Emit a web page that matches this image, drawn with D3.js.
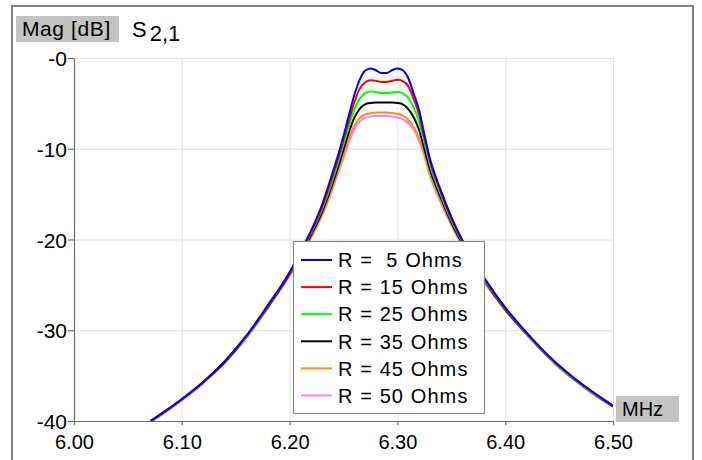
<!DOCTYPE html>
<html>
<head>
<meta charset="utf-8">
<script src="https://cdn.jsdelivr.net/npm/d3@7"></script>
<style>
  body { margin: 0; background: #fff; }
  svg { display: block; font-family: "Liberation Sans", Arial, sans-serif; }
</style>
</head>
<body>
<script>
// frequency grid (MHz), shared by all traces
const freq = [6.071, 6.08, 6.10, 6.12, 6.14, 6.16, 6.18, 6.20, 6.21, 6.22, 6.23, 6.24, 6.245, 6.25, 6.255, 6.26, 6.265, 6.27, 6.275, 6.28,
              6.285, 6.29, 6.295, 6.30, 6.305, 6.31, 6.315, 6.32, 6.325, 6.33, 6.34, 6.35, 6.36, 6.38, 6.40, 6.42, 6.44, 6.46, 6.48, 6.50];

// |S21| in dB, one array per resistor value
const r5  = [-40.0,-39.3,-37.6,-35.7,-33.4,-30.6,-27.2,-23.6,-21.3,-19.0,-16.2,-12.6,-10.7,-8.6,-6.3,-4.1,-2.4,-1.4,-1.15,-1.35,
             -1.65,-1.65,-1.35,-1.15,-1.35,-2.2,-3.9,-5.7,-8.4,-11.0,-14.5,-17.5,-20.0,-24.1,-27.5,-30.3,-32.8,-34.9,-36.7,-38.3];
const r15 = [-40.0,-39.3,-37.6,-35.7,-33.4,-30.6,-27.3,-23.7,-21.5,-19.2,-16.5,-13.0,-11.1,-9.0,-6.9,-4.9,-3.4,-2.7,-2.45,-2.5,
             -2.65,-2.65,-2.5,-2.4,-2.55,-3.1,-4.5,-6.2,-8.8,-11.3,-14.7,-17.7,-20.1,-24.2,-27.5,-30.3,-32.8,-34.9,-36.7,-38.3];
const r25 = [-40.0,-39.3,-37.6,-35.7,-33.4,-30.7,-27.3,-23.7,-21.6,-19.3,-16.7,-13.4,-11.5,-9.5,-7.5,-5.7,-4.5,-3.9,-3.7,-3.75,
             -3.85,-3.85,-3.8,-3.75,-3.9,-4.4,-5.4,-7.0,-9.3,-11.7,-15.0,-17.9,-20.2,-24.3,-27.6,-30.4,-32.9,-35.0,-36.8,-38.3];
const r35 = [-40.0,-39.3,-37.6,-35.7,-33.5,-30.7,-27.4,-23.8,-21.7,-19.5,-17.0,-13.8,-12.0,-10.1,-8.2,-6.6,-5.6,-5.1,-4.95,-4.9,
             -4.9,-4.9,-4.9,-4.95,-5.1,-5.6,-6.5,-7.9,-10.0,-12.2,-15.3,-18.1,-20.4,-24.4,-27.7,-30.4,-32.9,-35.0,-36.8,-38.4];
const r45 = [-40.1,-39.4,-37.7,-35.8,-33.5,-30.8,-27.5,-23.9,-21.9,-19.7,-17.3,-14.2,-12.5,-10.7,-8.9,-7.5,-6.6,-6.25,-6.1,-6.0,
             -6.0,-6.0,-6.05,-6.15,-6.35,-6.8,-7.6,-8.8,-10.6,-12.7,-15.7,-18.3,-20.6,-24.5,-27.8,-30.5,-33.0,-35.1,-36.9,-38.4];
const r50 = [-40.1,-39.4,-37.7,-35.8,-33.6,-30.8,-27.5,-24.0,-22.0,-19.8,-17.4,-14.4,-12.7,-11.0,-9.3,-7.9,-7.0,-6.6,-6.45,-6.4,
             -6.4,-6.4,-6.45,-6.55,-6.75,-7.15,-7.9,-9.1,-10.8,-12.9,-15.9,-18.4,-20.7,-24.6,-27.8,-30.5,-33.0,-35.1,-36.9,-38.4];

const labels = ["R =  5 Ohms", "R = 15 Ohms", "R = 25 Ohms", "R = 35 Ohms", "R = 45 Ohms", "R = 50 Ohms"];
const colors = ["#0000ff", "#ff0000", "#00ff00", "#000000", "#ff8c1a", "#ff80ff"];
const series = [r5, r15, r25, r35, r45, r50];

const xTicks = [6.00, 6.10, 6.20, 6.30, 6.40, 6.50];
const yTicks = [0, -10, -20, -30, -40];

const W = 702, H = 460;
const svg = d3.select("body").append("svg").attr("width", W).attr("height", H);

// outer frame
svg.append("rect")
  .attr("x", 12).attr("y", 6).attr("width", 681).attr("height", 470)
  .attr("fill", "none").attr("stroke", "#808080").attr("stroke-width", 2);

const x = d3.scaleLinear().domain([6.0, 6.5]).range([74, 613]);
const y = d3.scaleLinear().domain([-40, 0]).range([421, 58]);

// grid
const grid = svg.append("g").attr("stroke", "#e2e2e2").attr("stroke-width", 1);
grid.selectAll("line.v").data(xTicks.slice(1)).join("line")
  .attr("x1", d => x(d) + 0.5).attr("x2", d => x(d) + 0.5)
  .attr("y1", y(0)).attr("y2", y(-40));
grid.selectAll("line.h").data(yTicks.slice(0, -1)).join("line")
  .attr("x1", x(6.0)).attr("x2", x(6.5))
  .attr("y1", d => y(d) + 0.5).attr("y2", d => y(d) + 0.5);

// traces
svg.append("clipPath").attr("id", "plot")
  .append("rect").attr("x", x(6.0)).attr("y", y(0)).attr("width", x(6.5) - x(6.0)).attr("height", y(-40) - y(0));

const line = d3.line()
  .x((d, i) => x(freq[i]))
  .y(d => y(d))
  .curve(d3.curveMonotoneX);

svg.append("g").attr("clip-path", "url(#plot)")
  .selectAll("path")
  .data(series.map((s, i) => ({s, i})).reverse())
  .join("path")
    .attr("fill", "none")
    .attr("stroke", d => colors[d.i])
    .attr("stroke-width", 2)
    .attr("stroke-linejoin", "round")
    .attr("d", d => line(d.s));

// axes
const yAxis = svg.append("g")
  .attr("transform", `translate(${x(6.0)},0)`)
  .call(d3.axisLeft(y).tickValues(yTicks).tickSize(6).tickSizeOuter(0)
    .tickFormat(d => d === 0 ? "-0" : d));
const xAxis = svg.append("g")
  .attr("transform", `translate(0,${y(-40)})`)
  .call(d3.axisBottom(x).tickValues(xTicks).tickSize(4).tickSizeOuter(0)
    .tickFormat(d3.format(".2f")));

[xAxis, yAxis].forEach(a => {
  a.selectAll("path, line").attr("stroke", "#6e6e6e").attr("stroke-width", 1.2);
  a.selectAll("text").attr("fill", "#000").attr("font-family", "Liberation Sans, Arial, sans-serif");
});
yAxis.selectAll("text").attr("font-size", 21).attr("x", -7).attr("dy", "0.36em");
xAxis.selectAll("text").attr("font-size", 20).attr("y", 14).attr("dy", "0.71em");

// axis titles
svg.append("rect").attr("x", 16).attr("y", 16).attr("width", 103).attr("height", 26).attr("fill", "#c3c3c3");
svg.append("text").attr("x", 22).attr("y", 36).attr("font-size", 21).attr("letter-spacing", 0.6).text("Mag [dB]");
const s21 = svg.append("text").attr("x", 132).attr("y", 37).attr("font-size", 22);
s21.append("tspan").text("S");
s21.append("tspan").attr("dx", 3).attr("dy", 4).text("2,1");

svg.append("rect").attr("x", 616).attr("y", 396).attr("width", 63).attr("height", 26).attr("fill", "#c3c3c3");
svg.append("text").attr("x", 622).attr("y", 416).attr("font-size", 20).text("MHz");

// legend
const legend = svg.append("g");
legend.append("rect")
  .attr("x", 293.5).attr("y", 241.5).attr("width", 191).attr("height", 172)
  .attr("fill", "#fff").attr("stroke", "#8a8a8a").attr("stroke-width", 1.2);
const item = legend.selectAll("g.item").data(labels).join("g")
  .attr("transform", (d, i) => `translate(0,${260 + i * 27.1})`);
item.append("line")
  .attr("x1", 301).attr("x2", 332)
  .attr("stroke", (d, i) => colors[i]).attr("stroke-width", 2);
item.append("text")
  .attr("x", 338).attr("dy", "0.36em")
  .attr("font-size", 20).attr("letter-spacing", 1.1)
  .style("white-space", "pre")
  .text(d => d);
</script>
</body>
</html>
